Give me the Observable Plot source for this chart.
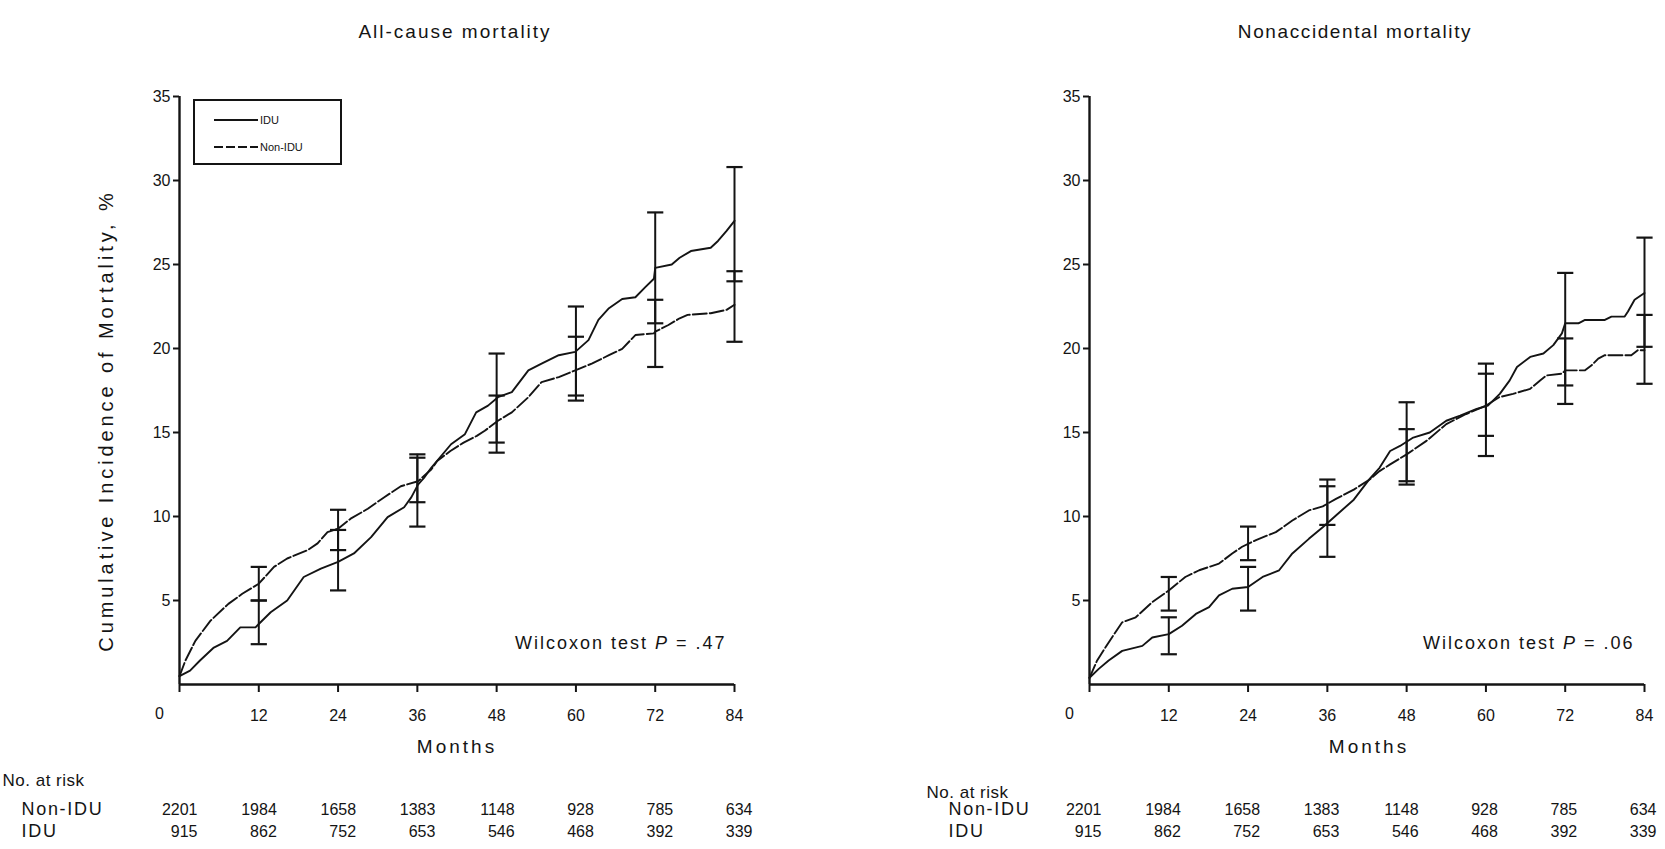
<!DOCTYPE html>
<html><head><meta charset="utf-8">
<script src="https://cdn.jsdelivr.net/npm/d3@7"></script>
<script src="https://cdn.jsdelivr.net/npm/@observablehq/plot@0.6"></script>
<style>
body{margin:0;background:#fff;overflow:hidden;}
#wrap{position:relative;width:1665px;height:849px;display:flex;}
#legend{position:absolute;left:193px;top:99px;}
</style></head><body><div id="wrap"></div>
<script>
// ---- data ----
const months = [0, 12, 24, 36, 48, 60, 72, 84];
const yTicks = [5, 10, 15, 20, 25, 30, 35];
const riskNonIDU = [2201, 1984, 1658, 1383, 1148, 928, 785, 634];
const riskIDU = [915, 862, 752, 653, 546, 468, 392, 339];
const barMonths = [12, 24, 36, 48, 60, 72, 84];

// All-cause mortality
const allIDU_m = [0, 1.6, 3.1, 5.2, 7.2, 9.2, 11.5, 12, 13.8, 16.3, 18.8, 21.4, 24, 26.4, 29, 31.5, 34, 35.1, 36.1, 37, 38.1, 41.1, 43.2, 44.9, 46.7, 48.2, 50.3, 52.8, 54.8, 57.4, 59.9, 61.9, 63.4, 65, 67, 69, 70.5, 71.8, 72, 74.5, 75.7, 77.4, 80.4, 81.5, 82.8, 84];
const allIDU_v = [0.5, 0.83, 1.43, 2.2, 2.6, 3.4, 3.4, 3.6, 4.3, 5.0, 6.4, 6.9, 7.3, 7.8, 8.77, 9.96, 10.55, 11.15, 11.9, 12.3, 12.9, 14.3, 14.9, 16.2, 16.6, 17.1, 17.4, 18.7, 19.1, 19.6, 19.8, 20.5, 21.7, 22.4, 22.95, 23.05, 23.65, 24.15, 24.8, 25.0, 25.4, 25.8, 26.0, 26.4, 27.0, 27.6];
const allNon_m = [0, 0.9, 2.4, 4.7, 7.4, 9.5, 12, 14.3, 16.3, 19.4, 20.9, 22.4, 24, 25.9, 28.5, 31, 33.5, 36.1, 38.1, 39, 41, 43, 45, 46.2, 48.2, 50.3, 52.8, 54.8, 57.4, 59.9, 62.4, 65, 67, 69, 71.8, 72, 74, 75.7, 76.9, 80.4, 82.8, 84];
const allNon_v = [0.5, 1.43, 2.6, 3.8, 4.8, 5.4, 6.0, 7.0, 7.5, 8.0, 8.4, 9.07, 9.27, 9.87, 10.46, 11.15, 11.8, 12.1, 12.8, 13.3, 13.9, 14.4, 14.8, 15.1, 15.7, 16.2, 17.1, 18.0, 18.3, 18.7, 19.1, 19.6, 19.98, 20.8, 20.9, 21.0, 21.4, 21.8, 22.0, 22.1, 22.3, 22.6];
const allIDU_lo = [2.4, 5.6, 9.4, 14.4, 17.2, 21.5, 24.0];
const allIDU_hi = [5.0, 9.2, 13.7, 19.7, 22.5, 28.1, 30.8];
const allNon_lo = [5.0, 8.0, 10.85, 13.8, 16.9, 18.9, 20.4];
const allNon_hi = [7.0, 10.4, 13.5, 17.2, 20.7, 22.9, 24.6];

// Nonaccidental mortality
const ncIDU_m = [0, 1.4, 2.9, 4.95, 8.0, 9.5, 12, 14.0, 16.1, 18.1, 19.6, 21.6, 24, 26.2, 28.7, 30.7, 33.2, 35.3, 37.3, 40, 42.4, 43.9, 45.5, 47.0, 49, 51.5, 54, 56.1, 58.6, 60.3, 62.1, 63.6, 64.7, 66.7, 68.7, 70.2, 71.5, 72, 74, 75, 78, 79, 81, 81.5, 82.5, 84];
const ncIDU_v = [0.4, 0.93, 1.43, 2.0, 2.3, 2.8, 3.0, 3.5, 4.2, 4.6, 5.3, 5.7, 5.8, 6.4, 6.8, 7.8, 8.67, 9.36, 10.06, 11.0, 12.24, 12.9, 13.9, 14.2, 14.7, 15.0, 15.7, 16.0, 16.4, 16.6, 17.3, 18.1, 18.9, 19.5, 19.7, 20.2, 20.9, 21.5, 21.5, 21.7, 21.7, 21.9, 21.9, 22.2, 22.9, 23.3];
const ncNon_m = [0, 1.16, 2.4, 3.4, 4.95, 7.0, 9.5, 12, 14.5, 16.6, 19.6, 21.6, 23.1, 25.2, 28.2, 30.7, 33.2, 35.3, 37.3, 40, 42.4, 43.9, 45.5, 48, 51, 54, 57, 60, 62, 64.1, 66.7, 68.2, 69.2, 71.5, 72, 75, 76, 77, 78, 82, 83, 84];
const ncNon_v = [0.4, 1.43, 2.2, 2.8, 3.7, 4.0, 4.9, 5.6, 6.4, 6.8, 7.2, 7.8, 8.2, 8.6, 9.07, 9.76, 10.36, 10.6, 11.05, 11.6, 12.2, 12.7, 13.1, 13.7, 14.5, 15.5, 16.1, 16.6, 17.1, 17.3, 17.6, 18.1, 18.4, 18.5, 18.7, 18.7, 19.0, 19.4, 19.6, 19.6, 19.9, 19.9];
const ncIDU_lo = [1.8, 4.4, 7.6, 11.9, 13.6, 17.8, 20.1];
const ncIDU_hi = [4.0, 7.0, 12.2, 16.8, 19.1, 24.5, 26.6];
const ncNon_lo = [4.4, 7.4, 9.5, 12.1, 14.8, 16.7, 17.9];
const ncNon_hi = [6.4, 9.4, 11.8, 15.2, 18.5, 20.6, 22.0];

const titles = ["All-cause mortality", "Nonaccidental mortality"];
const pLabels = ["Wilcoxon test P = .47", "Wilcoxon test P = .06"];
const yLabel = "Cumulative Incidence of Mortality, %";
const xLabel = "Months";
const riskHead = "No. at risk";
const legendLabels = ["IDU", "Non-IDU"];

// ---- helpers ----
const FONT = "'Liberation Sans', Arial, Helvetica, sans-serif";
const INK = "#141414";
const pts = (m, v) => m.map((d, i) => ({m: d, v: v[i]}));
const bars = (lo, hi) => barMonths.map((d, i) => ({m: d, lo: lo[i], hi: hi[i]}));
const caps = (lo, hi) => barMonths.flatMap((d, i) => [{m: d, v: lo[i]}, {m: d, v: hi[i]}]);
const capSymbol = {draw(ctx, size) { const w = Math.sqrt(size / Math.PI) * 1.8; ctx.moveTo(-w, 0); ctx.lineTo(w, 0); }};
const spacing = new Map([[yLabel, 3.9], [xLabel, 3], [riskHead, 0.5], ["Non-IDU", 1.7], ["IDU", 1.7],
  [titles[0], 2], [titles[1], 1.6], [pLabels[0], 2], [pLabels[1], 2]]);

function panel(o) {
  const marks = [
    Plot.ruleY([0], {stroke: INK, strokeWidth: 2.4}),
    Plot.ruleX([0], {stroke: INK, strokeWidth: 2.4}),
    Plot.axisX({ticks: months, tickSize: 8, tickPadding: 17, tickFormat: d => d === 0 ? "" : String(d), label: null, stroke: INK, strokeWidth: 2, fontSize: 16, fill: INK}),
    Plot.axisY({ticks: yTicks, tickSize: 6, tickPadding: 3, tickFormat: d => String(d), label: null, stroke: INK, strokeWidth: 2, fontSize: 16, fill: INK}),
    Plot.text(["0"], {x: 0, frameAnchor: "bottom", dx: -20, dy: 34, fontSize: 16, fill: INK}),
    Plot.text([o.title], {frameAnchor: "top", dy: -72, dx: o.titleDx, fontSize: 19, fill: INK}),
    Plot.text([xLabel], {frameAnchor: "bottom", dy: 68, dx: o.monthsDx, fontSize: 19, fill: INK}),
    Plot.text([o.pLabel], {frameAnchor: "bottom-right", textAnchor: "end", dx: o.pDx, dy: -36, fontSize: 18, fill: INK}),
    Plot.text([riskHead], {frameAnchor: "bottom-left", textAnchor: "start", dx: o.riskHeadDx, dy: o.riskHeadDy, fontSize: 17, fill: INK}),
    Plot.text(["Non-IDU"], {frameAnchor: "bottom-left", textAnchor: "start", dx: o.rowDx, dy: 130, fontSize: 18, fill: INK}),
    Plot.text(["IDU"], {frameAnchor: "bottom-left", textAnchor: "start", dx: o.rowDx, dy: 152.5, fontSize: 18, fill: INK}),
    Plot.text(months, {x: d => d, text: (d, i) => String(riskNonIDU[i]), frameAnchor: "bottom", textAnchor: "end", dx: o.numDx, dy: 130, fontSize: 16, fill: INK}),
    Plot.text(months, {x: d => d, text: (d, i) => String(riskIDU[i]), frameAnchor: "bottom", textAnchor: "end", dx: o.numDx, dy: 152.5, fontSize: 16, fill: INK}),
    Plot.ruleX(bars(o.iduLo, o.iduHi), {x: "m", y1: "lo", y2: "hi", stroke: INK, strokeWidth: 2}),
    Plot.ruleX(bars(o.nonLo, o.nonHi), {x: "m", y1: "lo", y2: "hi", stroke: INK, strokeWidth: 2}),
    Plot.dot(caps(o.iduLo, o.iduHi), {x: "m", y: "v", symbol: capSymbol, r: 4.5, stroke: INK, strokeWidth: 2.2, fill: "none"}),
    Plot.dot(caps(o.nonLo, o.nonHi), {x: "m", y: "v", symbol: capSymbol, r: 4.5, stroke: INK, strokeWidth: 2.2, fill: "none"}),
    Plot.line(o.non, {x: "m", y: "v", stroke: INK, strokeWidth: 1.9, strokeDasharray: "14,3"}),
    Plot.line(o.idu, {x: "m", y: "v", stroke: INK, strokeWidth: 1.9})
  ];
  if (o.showYLabel) marks.push(Plot.text([yLabel], {frameAnchor: "left", textAnchor: "middle", rotate: -90, dx: -73, dy: 30, fontSize: 20, fill: INK}));
  const svg = Plot.plot({
    width: o.width, height: 849,
    marginTop: 96, marginBottom: 165, marginLeft: o.marginLeft, marginRight: o.marginRight,
    x: {domain: [0, 84]}, y: {domain: [0, 35]},
    style: {fontFamily: FONT, fontSize: "16px", color: INK, background: "white", overflow: "visible"},
    marks
  });
  d3.select(svg).selectAll("text").each(function() {
    const s = spacing.get(this.textContent);
    if (s != null) this.style.letterSpacing = s + "px";
  });
  // italic P
  d3.select(svg).selectAll("text").filter(function() { return this.textContent === o.pLabel; }).each(function() {
    const parts = o.pLabel.split("P");
    const t = d3.select(this); t.text("");
    t.append("tspan").text(parts[0]);
    t.append("tspan").attr("font-style", "italic").text("P");
    t.append("tspan").text(parts[1]);
  });
  return svg;
}

const wrap = document.getElementById("wrap");
wrap.appendChild(panel({
  width: 832, marginLeft: 179, marginRight: 98,
  idu: pts(allIDU_m, allIDU_v), non: pts(allNon_m, allNon_v),
  iduLo: allIDU_lo, iduHi: allIDU_hi, nonLo: allNon_lo, nonHi: allNon_hi,
  title: titles[0], titleDx: -2, monthsDx: 0, pLabel: pLabels[0], pDx: -8,
  riskHeadDx: -177, riskHeadDy: 101, rowDx: -158, numDx: 18, showYLabel: true
}));
wrap.appendChild(panel({
  width: 833, marginLeft: 257, marginRight: 21,
  idu: pts(ncIDU_m, ncIDU_v), non: pts(ncNon_m, ncNon_v),
  iduLo: ncIDU_lo, iduHi: ncIDU_hi, nonLo: ncNon_lo, nonHi: ncNon_hi,
  title: titles[1], titleDx: -12, monthsDx: 2, pLabel: pLabels[1], pDx: -10,
  riskHeadDx: -163, riskHeadDy: 113, rowDx: -141, numDx: 12, showYLabel: false
}));

// legend (left panel)
const lg = d3.select(wrap).append("svg").attr("id", "legend").attr("width", 150).attr("height", 67)
  .style("font-family", FONT);
lg.append("rect").attr("x", 1).attr("y", 1).attr("width", 147).attr("height", 64).attr("fill", "white").attr("stroke", INK).attr("stroke-width", 2);
lg.append("line").attr("x1", 21).attr("x2", 65).attr("y1", 21).attr("y2", 21).attr("stroke", INK).attr("stroke-width", 1.8);
lg.append("line").attr("x1", 21).attr("x2", 65).attr("y1", 48).attr("y2", 48).attr("stroke", INK).attr("stroke-width", 1.8).attr("stroke-dasharray", "9,3");
lg.append("text").attr("x", 67).attr("y", 21).attr("dy", "0.35em").attr("font-size", 11).attr("fill", INK).text(legendLabels[0]);
lg.append("text").attr("x", 67).attr("y", 48).attr("dy", "0.35em").attr("font-size", 11).attr("fill", INK).text(legendLabels[1]);
</script></body></html>
